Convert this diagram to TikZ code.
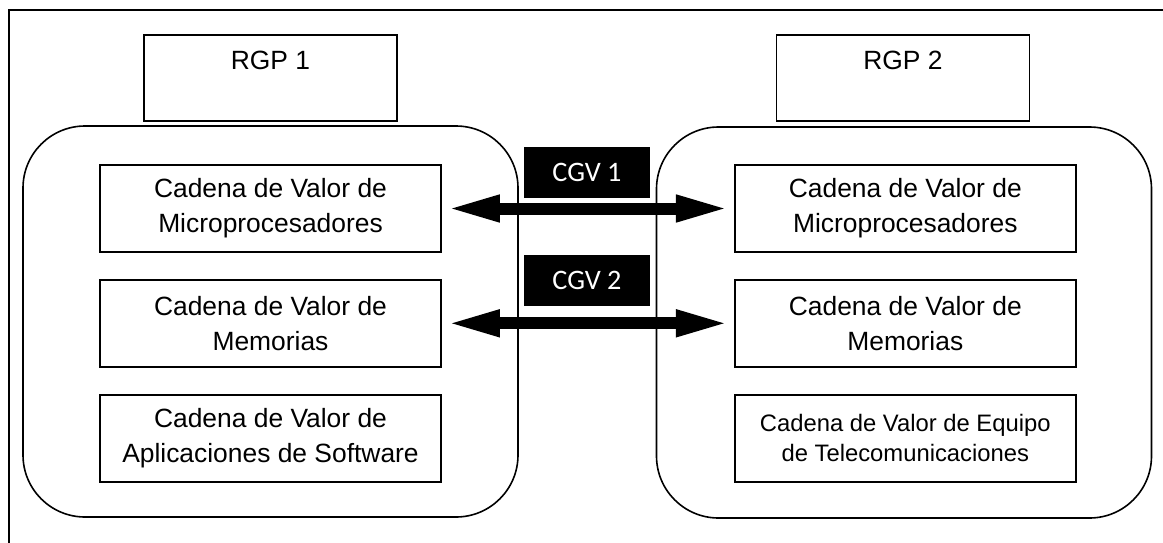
\documentclass[tikz,border=0pt]{standalone}
\usepackage{fontspec}
\setmainfont{Liberation Sans}
\newfontfamily\cgvfont{Carlito}
\usepackage{tikz}
\usetikzlibrary{arrows.meta,positioning}

\begin{document}
\begin{tikzpicture}[
  x=0.5pt, y=-0.5pt,
  node distance=13pt and 146pt,
  every node/.style={align=center},
  cadena/.style={draw,line width=0.9pt,inner sep=0pt,minimum width=170.5pt,minimum height=43.5pt,font=\fontsize{13.2}{17.5}\selectfont},
  rgp/.style={draw,line width=0.9pt,inner sep=0pt,minimum width=126.5pt,minimum height=43pt,font=\fontsize{13.2}{17.5}\selectfont},
  grupo/.style={draw,line width=0.8pt,rounded corners=31pt,minimum width=247.5pt,minimum height=195.5pt},
  cgv/.style={fill=black,draw=white,line width=1pt,text=white,minimum width=64pt,minimum height=26.5pt,font=\cgvfont\fontsize{14.1}{16}\selectfont},
  flecha/.style={{Triangle[length=27.5pt,width=12pt]}-{Triangle[length=27.5pt,width=12pt]},line width=6pt},
  marco/.style={draw,line width=0.9pt}
]
\useasboundingbox (0,0) rectangle (1163,542);
\clip (0,0) rectangle (1163,542);
\draw[marco] (9,10) rectangle (1200,600);

% Grupos RGP
\node[rgp] (rgp1) at (270.5,78) {RGP 1\\ ~};
\node[rgp] (rgp2) at (903,78) {RGP 2\\ ~};
\node[grupo] (g1) at (270.5,321.5) {};
\node[grupo] (g2) at (904,322.5) {};

% Columna izquierda
\node[cadena] (lm1) at (270.5,208.5) {Cadena de Valor de\\Microprocesadores};
\node[cadena,below=of lm1] (lm2) {Cadena de Valor de\\Memorias};
\node[cadena,below=of lm2] (lm3) {Cadena de Valor de\\Aplicaciones de Software};

% Columna derecha
\node[cadena,right=of lm1] (rm1) {Cadena de Valor de\\Microprocesadores};
\node[cadena,below=of rm1] (rm2) {Cadena de Valor de\\Memorias};
\node[cadena,below=of rm2,font=\fontsize{11.9}{15.3}\selectfont] (rm3) {Cadena de Valor de Equipo\\de Telecomunicaciones};

% Cadenas globales de valor
\node[cgv] (cgv1) at (587,172.5) {CGV 1};
\node[cgv] (cgv2) at (587,280.5) {CGV 2};

% Conexiones
\draw[flecha,shorten <=1.5pt,shorten >=1.5pt] (lm1) -- (rm1);
\draw[flecha,shorten <=1.5pt,shorten >=1.5pt] (lm2) -- (rm2);
\end{tikzpicture}
\end{document}
